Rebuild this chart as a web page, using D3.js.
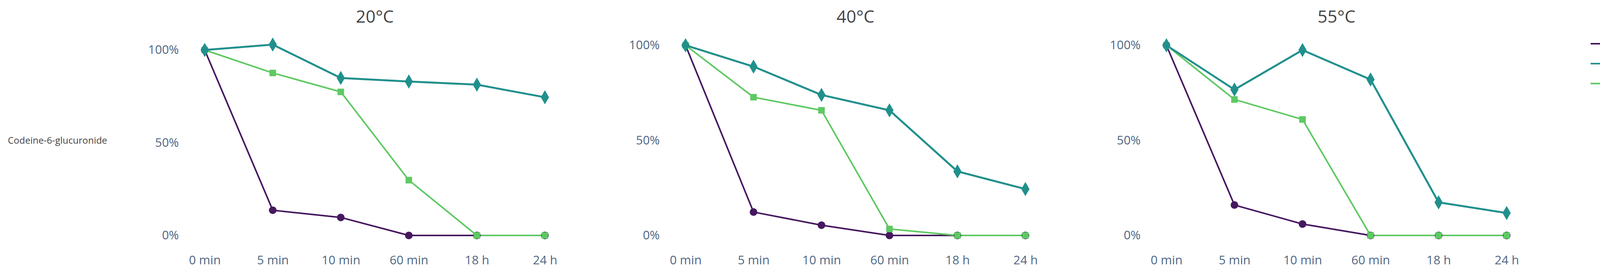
<!DOCTYPE html>
<html><head><meta charset="utf-8">
<script src="https://cdn.jsdelivr.net/npm/d3@7"></script>
<style>body{margin:0;background:#fff;overflow:hidden}text{font-family:"Open Sans",sans-serif}</style>
</head><body><div id="chart"></div>
<script>
var times = ['0 min','5 min','10 min','60 min','18 h','24 h'];
var panels = ['20°C','40°C','55°C'];
var seriesNames = ['B-One','MIX','BGT'];
var colors = ['#46185f','#21908d','#5ec962'];
// values per panel, percent
var bone = [[100,13.6,9.7,0,0,0],[100,12.3,5.4,0,0,0],[100,16.0,6.0,0,0,0]];
var mix  = [[100,102.9,84.9,83.0,81.3,74.5],[100,88.8,73.9,65.8,33.7,24.4],[100,76.7,97.5,82.0,17.4,11.8]];
var bgt  = [[100,87.6,77.4,29.8,0,0],[100,72.7,65.8,3.4,0,0],[100,71.5,61.0,0,0,0]];
var yTicks = [0,50,100];

var W = 4277, H = 712;
var svg = d3.select('#chart').append('svg').attr('width',W).attr('height',H);
var panelX = [[524,1395],[1755,2625],[2986,3857]];
var yTopPx = [128,116,116];
var symbols = [d3.symbolCircle, d3.symbolDiamond, d3.symbolSquare];
var symSize = [300,380,280];
var widths = [4,5,4];

svg.append('text').attr('x',20).attr('y',362).attr('font-size',24).attr('fill','#444')
  .attr('dominant-baseline','middle').text('Codeine-6-glucuronide');

panels.forEach(function(p,pi){
  var x = d3.scalePoint().domain(times).range(panelX[pi]);
  var y = d3.scaleLinear().domain([0,100]).range([603,yTopPx[pi]]);
  var g = svg.append('g');
  g.append('text').attr('x',(panelX[pi][0]+panelX[pi][1])/2).attr('y',46)
    .attr('text-anchor','middle').attr('dominant-baseline','middle')
    .attr('font-size',44).attr('fill','#444').text(p);
  var ya = d3.axisLeft(y).tickValues(yTicks)
    .tickFormat(function(d){return d+'%';}).tickSize(0).tickPadding(0);
  g.append('g').attr('transform','translate('+(panelX[pi][0]-66)+',0)').call(ya)
    .call(function(s){s.select('.domain').remove();s.selectAll('text').attr('font-size',31).attr('fill','#506784').attr('font-family','"Open Sans",sans-serif');});
  var xa = d3.axisBottom(x).tickSize(0).tickPadding(0);
  g.append('g').attr('transform','translate(0,666)').call(xa)
    .call(function(s){s.select('.domain').remove();s.selectAll('text').attr('font-size',31).attr('fill','#506784').attr('font-family','"Open Sans",sans-serif').attr('dy','0.35em');});
  var sets = [bone[pi],mix[pi],bgt[pi]];
  var line = d3.line().x(function(d,i){return x(times[i]);}).y(function(d){return y(d);});
  [0,2,1].forEach(function(si){
    g.append('path').datum(sets[si]).attr('d',line).attr('fill','none')
      .attr('stroke',colors[si]).attr('stroke-width',widths[si]);
  });
  [0,2,1].forEach(function(si){
    g.selectAll(null).data(sets[si]).enter().append('path')
      .attr('transform',function(d,i){return 'translate('+x(times[i])+','+y(d)+')';})
      .attr('d',d3.symbol().type(symbols[si]).size(symSize[si])).attr('fill',colors[si]);
  });
});

var legend = svg.append('g');
seriesNames.forEach(function(n,i){
  var yy = 112+i*51;
  legend.append('line').attr('x1',4072).attr('x2',4148).attr('y1',yy).attr('y2',yy)
    .attr('stroke',colors[i]).attr('stroke-width',4);
  legend.append('path').attr('transform','translate(4110,'+yy+')')
    .attr('d',d3.symbol().type(symbols[i]).size(symSize[i])).attr('fill',colors[i]);
  legend.append('text').attr('x',4160).attr('y',yy).attr('dominant-baseline','middle')
    .attr('font-size',30).attr('fill','#444').text(n);
});
</script></body></html>
